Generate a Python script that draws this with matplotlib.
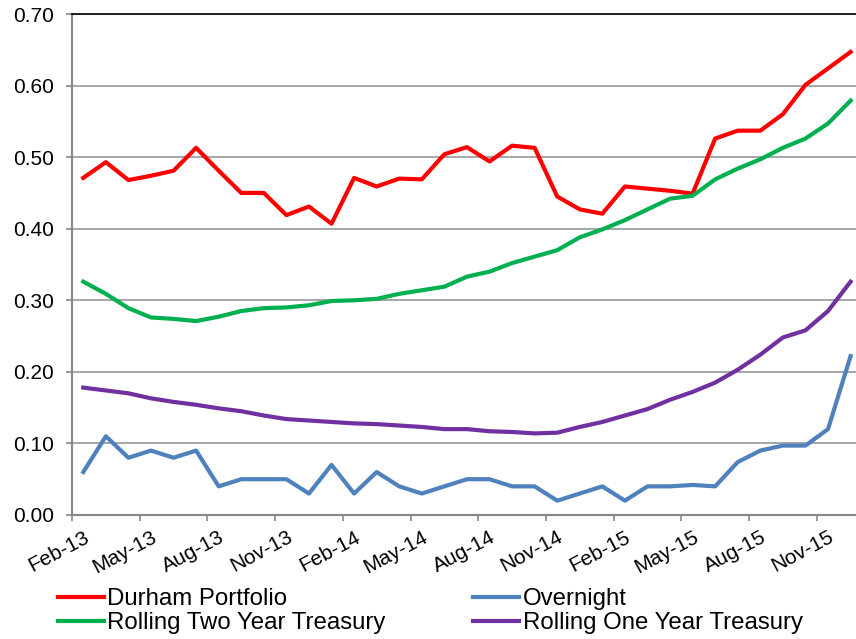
import numpy as np
import matplotlib.pyplot as plt

# -----------------------------
# data (monthly, Feb-13 .. Dec-15)
# -----------------------------
months = ["Feb-13", "Mar-13", "Apr-13", "May-13", "Jun-13", "Jul-13", "Aug-13", "Sep-13", "Oct-13",
          "Nov-13", "Dec-13", "Jan-14", "Feb-14", "Mar-14", "Apr-14", "May-14", "Jun-14", "Jul-14",
          "Aug-14", "Sep-14", "Oct-14", "Nov-14", "Dec-14", "Jan-15", "Feb-15", "Mar-15", "Apr-15",
          "May-15", "Jun-15", "Jul-15", "Aug-15", "Sep-15", "Oct-15", "Nov-15", "Dec-15"]

durham = [0.471, 0.493, 0.468, 0.474, 0.481, 0.513, 0.481, 0.450, 0.450, 0.419,
          0.431, 0.407, 0.471, 0.459, 0.470, 0.469, 0.504, 0.514, 0.494, 0.516,
          0.513, 0.445, 0.427, 0.421, 0.459, 0.456, 0.453, 0.449, 0.526, 0.537,
          0.537, 0.560, 0.601, 0.624, 0.647]

overnight = [0.06, 0.11, 0.08, 0.09, 0.08, 0.09, 0.04, 0.05, 0.05, 0.05,
             0.03, 0.07, 0.03, 0.06, 0.04, 0.03, 0.04, 0.05, 0.05, 0.04,
             0.04, 0.02, 0.03, 0.04, 0.02, 0.04, 0.04, 0.042, 0.04, 0.074,
             0.09, 0.097, 0.097, 0.12, 0.222]

two_year = [0.326, 0.309, 0.289, 0.276, 0.274, 0.271, 0.277, 0.285, 0.289, 0.290,
            0.293, 0.299, 0.300, 0.302, 0.309, 0.314, 0.319, 0.333, 0.340, 0.352,
            0.361, 0.370, 0.388, 0.399, 0.412, 0.427, 0.442, 0.446, 0.469, 0.484,
            0.497, 0.513, 0.526, 0.547, 0.579]

one_year = [0.178, 0.174, 0.170, 0.163, 0.158, 0.154, 0.149, 0.145, 0.139, 0.134,
            0.132, 0.130, 0.128, 0.127, 0.125, 0.123, 0.120, 0.120, 0.117, 0.116,
            0.114, 0.115, 0.123, 0.130, 0.139, 0.148, 0.161, 0.172, 0.185, 0.203,
            0.224, 0.248, 0.258, 0.285, 0.326]

y_ticks = [0.0, 0.1, 0.2, 0.3, 0.4, 0.5, 0.6, 0.7]

# -----------------------------
# plot
# -----------------------------
plt.rcParams["font.family"] = ["Liberation Sans", "DejaVu Sans"]

fig = plt.figure(figsize=(8.56, 6.39), dpi=100)
ax = fig.add_axes([72 / 856, 124 / 639, 784 / 856, 501 / 639])

x = np.arange(len(months))
ax.plot(x, durham, color="#FF0000", lw=3, label="Durham Portfolio", zorder=3)
ax.plot(x, two_year, color="#00B050", lw=3, label="Rolling Two Year Treasury", zorder=3)
ax.plot(x, overnight, color="#4F81BD", lw=3, label="Overnight", zorder=3)
ax.plot(x, one_year, color="#7030A0", lw=3, label="Rolling One Year Treasury", zorder=3)

ax.set_ylim(0, 0.7)
ax.set_yticks(y_ticks)
ax.set_yticklabels([f"{v:.2f}" for v in y_ticks])
ax.set_xlim(-0.5, 34.24)

# ticks between categories, labels on every third category
ax.set_xticks(np.arange(-0.5, len(months), 3))
ax.set_xticklabels([])
ax.set_xticks(x[::3], minor=True)
ax.set_xticklabels(months[::3], minor=True, rotation=28, ha="right", va="top",
                   rotation_mode="anchor", fontsize=15)
ax.tick_params(axis="x", which="minor", length=0, pad=9)
ax.tick_params(axis="x", which="major", length=4, width=1.2, color="#868686")
ax.tick_params(axis="y", length=4, width=1.2, color="#868686", labelsize=15, pad=9)

ax.grid(axis="y", color="#979797", lw=1.2, zorder=0)
for side in ["left", "bottom"]:
    ax.spines[side].set_color("#868686")
    ax.spines[side].set_linewidth(1.5)
ax.spines["top"].set_color("black")
ax.spines["top"].set_linewidth(1.2)
ax.spines["right"].set_visible(False)

fig.legend(loc="upper left", bbox_to_anchor=(58 / 856, 1 - 588 / 639), ncol=2,
           frameon=False, fontsize=17.3, handlelength=1.9, handletextpad=0.15,
           columnspacing=3.65, labelspacing=0.1, borderpad=0, borderaxespad=0)

plt.savefig("out.png", dpi=100)
plt.close()
